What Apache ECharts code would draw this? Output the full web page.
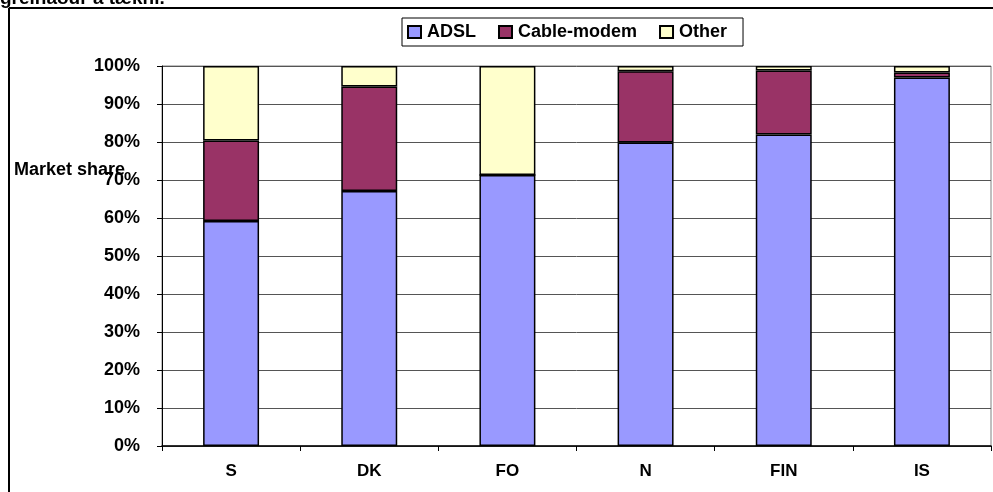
<!DOCTYPE html>
<html>
<head>
<meta charset="utf-8">
<script src="https://cdn.jsdelivr.net/npm/echarts@6/dist/echarts.min.js"></script>
<style>
html,body{margin:0;padding:0;background:#fff;}
#c{width:993px;height:492px;}
</style>
</head>
<body>
<div id="c"></div>
<script>
var categories = ['S', 'DK', 'FO', 'N', 'FIN', 'IS'];
var adsl = [59.2, 67.1, 71.3, 79.9, 82.0, 97.0];
var cable = [21.2, 27.5, 0.0, 18.7, 16.8, 1.3];
var other = [19.6, 5.4, 28.7, 1.4, 1.2, 1.7];
var yTicks = [0, 10, 20, 30, 40, 50, 60, 70, 80, 90, 100];
var seriesNames = ['ADSL', 'Cable-modem', 'Other'];
var seriesColors = ['#9999FF', '#993366', '#FFFFCC'];

var font = 'Liberation Sans, Arial, sans-serif';
var chart = echarts.init(document.getElementById('c'));
var dataSets = [adsl, cable, other];
var series = seriesNames.map(function (n, i) {
  return {
    name: n,
    type: 'bar',
    stack: 'total',
    barWidth: '40.5%',
    data: dataSets[i],
    itemStyle: { color: seriesColors[i], borderColor: '#000', borderWidth: 1.5 },
    emphasis: { disabled: true }
  };
});

chart.setOption({
  animation: false,
  backgroundColor: '#fff',
  grid: { left: 162, right: 2, top: 66, bottom: 46, show: true, borderColor: '#808080', borderWidth: 1 },
  legend: {
    data: seriesNames,
    left: 402, top: 18,
    padding: [5, 16, 5, 5],
    itemGap: 22,
    itemWidth: 13, itemHeight: 12,
    borderColor: '#000', borderWidth: 1,
    icon: 'rect',
    textStyle: { fontFamily: font, fontWeight: 'bold', fontSize: 18, color: '#000', padding: [0, 0, 0, 1] }
  },
  xAxis: {
    type: 'category',
    data: categories,
    axisLine: { lineStyle: { color: '#000', width: 1.5 } },
    axisTick: { show: true, length: 5, lineStyle: { color: '#000' } },
    axisLabel: { fontFamily: font, fontWeight: 'bold', fontSize: 17, color: '#000', margin: 17 },
    splitLine: { show: false }
  },
  yAxis: {
    type: 'value',
    min: yTicks[0], max: yTicks[yTicks.length - 1], interval: 10,
    axisLine: { show: true, lineStyle: { color: '#000', width: 1 } },
    axisTick: { show: true, length: 5, lineStyle: { color: '#000' } },
    axisLabel: { formatter: '{value}%', fontFamily: font, fontWeight: 'bold', fontSize: 18, color: '#000', margin: 22 },
    splitLine: { show: true, lineStyle: { color: '#555', width: 1 } }
  },
  graphic: [
    { type: 'line', shape: { x1: 9, y1: 8, x2: 993, y2: 8 }, style: { stroke: '#000', lineWidth: 2 } },
    { type: 'line', shape: { x1: 9, y1: 8, x2: 9, y2: 492 }, style: { stroke: '#000', lineWidth: 2 } },
    { type: 'text', left: 0, top: -11, style: { text: 'greinaður á tækni.', font: 'bold 19px ' + font, fill: '#000' } },
    { type: 'text', left: 14, top: 161, z: 10, style: { text: 'Market share', font: 'bold 18px ' + font, fill: '#000' } }
  ],
  series: series
});
</script>
</body>
</html>
